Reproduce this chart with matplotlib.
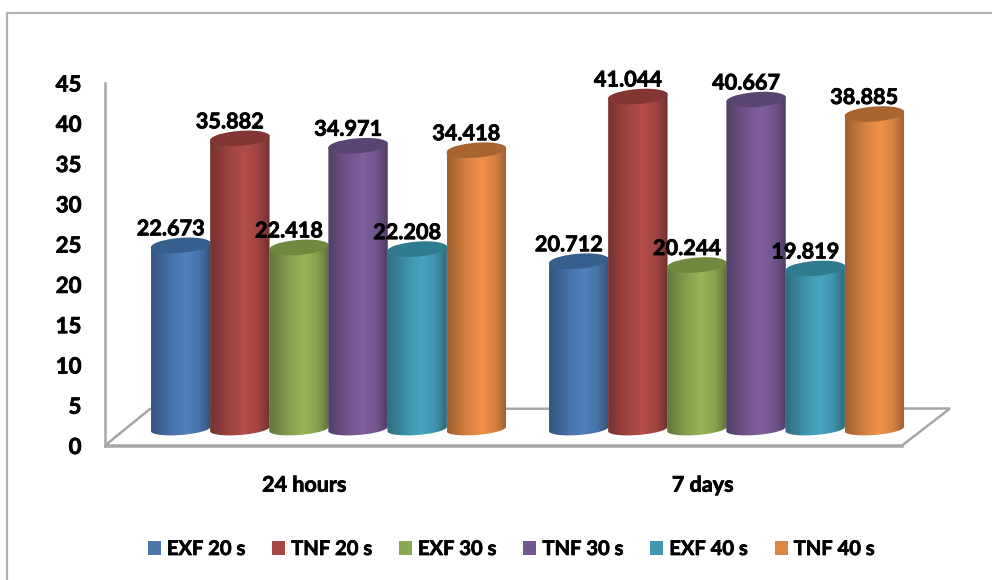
import numpy as np
import matplotlib
matplotlib.use('Agg')
import matplotlib.pyplot as plt
import matplotlib.patheffects as pe
from matplotlib.lines import Line2D
from matplotlib.patches import Patch, PathPatch, Polygon
from matplotlib.path import Path

plt.rcParams['font.family'] = ['Lato', 'DejaVu Sans']
plt.rcParams['font.weight'] = 'bold'

categories = ['24 hours', '7 days']
series_names = ['EXF 20 s', 'TNF 20 s', 'EXF 30 s', 'TNF 30 s', 'EXF 40 s', 'TNF 40 s']
exf_20 = [22.673, 20.712]
tnf_20 = [35.882, 41.044]
exf_30 = [22.418, 20.244]
tnf_30 = [34.971, 40.667]
exf_40 = [22.208, 19.819]
tnf_40 = [34.418, 38.885]
all_series = [exf_20, tnf_20, exf_30, tnf_30, exf_40, tnf_40]
y_ticks = [0, 5, 10, 15, 20, 25, 30, 35, 40, 45]

body_colors = ['#4f81bd', '#b34d4a', '#96b458', '#7f5f9e', '#46a5c0', '#f09148']
top_colors = ['#355f8c', '#843634', '#6f8a3e', '#5a4472', '#2f7b90', '#a96530']
legend_colors = ['#4a76aa', '#aa4744', '#8aa84f', '#71588f', '#4298b0', '#de8640']

W, H = 992, 580
fig = plt.figure(figsize=(W / 100, H / 100), dpi=100, facecolor='white')

GREY = '#a6a6a6'
heavy = [pe.withStroke(linewidth=0.55, foreground='black')]

# outer chart frame, only left and top are visible
to_fig = matplotlib.transforms.Affine2D().scale(1 / W, -1 / H).translate(0, 1) + fig.transFigure
fig.add_artist(Line2D([6.5, 6.5, W], [H, 12.5, 12.5], color='#b0b0b0', lw=1.6, transform=to_fig, zorder=-2))

# floor of the 3d box goes behind both axes
floor = Polygon([(105, 445.5), (150, 409), (950, 408.5), (902, 445.5)], closed=True,
                facecolor='white', edgecolor=GREY, lw=1.8, transform=to_fig, zorder=-1)
fig.add_artist(floor)

# front plane: value axis and category labels
ax_front = fig.add_axes([105 / W, (H - 445.5) / H, 797 / W, 362.5 / H])
ax_front.patch.set_alpha(0)
ax_front.set_xlim(-0.5, 1.5)
ax_front.set_ylim(0, 45)
ax_front.set_yticks(y_ticks)
ax_front.set_xticks([0, 1])
ax_front.set_xticklabels(categories)
ax_front.tick_params(axis='y', length=0, pad=17, labelsize=16)
ax_front.tick_params(axis='x', length=0, pad=21, labelsize=15.5)
for side in ['top', 'right']:
    ax_front.spines[side].set_visible(False)
for side in ['left', 'bottom']:
    ax_front.spines[side].set_color(GREY)
    ax_front.spines[side].set_linewidth(1.8)
for lab in ax_front.get_xticklabels() + ax_front.get_yticklabels():
    lab.set_path_effects(heavy)

# bars live on the back plane, shifted from the front axis
PX_PER_X = 398.0
PX_PER_Y = 8.1
ax = fig.add_axes([0, 0, 1, 1])
ax.patch.set_alpha(0)
ax.axis('off')
xlim = (-328.5 / PX_PER_X, (W - 328.5) / PX_PER_X)
ylim = (-(H - 429) / PX_PER_Y, 429 / PX_PER_Y)

bar_w = 59.4 / PX_PER_X
half_w = bar_w / 2
ell_b = 7.5 / PX_PER_Y
ell_tilt = 2.2 / PX_PER_Y

shade_pos = [0, 0.12, 0.35, 0.58, 0.8, 0.93, 1]
shade_val = [0.66, 0.74, 0.9, 1.0, 0.9, 0.74, 0.62]
gradient_x = np.linspace(0, 1, 80)
shade = np.interp(gradient_x, shade_pos, shade_val)
t_lower = np.linspace(np.pi, 2 * np.pi, 40)
t_full = np.linspace(0, 2 * np.pi, 80)


def ellipse_xy(cx, cy, t, b):
    x = cx + half_w * np.cos(t)
    y = cy + b * np.sin(t) + ell_tilt * np.cos(t)
    return x, y


def cylinder(cx, value, color, top_color, z):
    rgb = np.array(matplotlib.colors.to_rgb(color))
    img = (shade[:, None] * rgb)[None, :, :]
    im = ax.imshow(img, extent=(cx - half_w, cx + half_w, -1.2, value + 0.5), aspect='auto',
                   interpolation='bilinear', zorder=z)
    # side wall: bottom half of the base ellipse, straight up to the top
    bx, by = ellipse_xy(cx, 0, t_lower, 6.0 / PX_PER_Y)
    tx, ty = ellipse_xy(cx, value, t_full[:41], ell_b)
    verts = np.column_stack([np.r_[bx, tx], np.r_[by, ty]])
    clip = PathPatch(Path(np.vstack([verts, verts[0]])), transform=ax.transData, fc='none', ec='none')
    ax.add_patch(clip)
    im.set_clip_path(clip)
    ex, ey = ellipse_xy(cx, value, t_full, ell_b)
    ax.fill(ex, ey, color=top_color, lw=0, zorder=z + 0.5)


offsets = (np.arange(len(all_series)) - 2.5) * (59.1 / PX_PER_X)
for i, vals in enumerate(all_series):
    for g, v in enumerate(vals):
        cylinder(g + offsets[i], v, body_colors[i], top_colors[i], 3 + i)

# value labels sit over every bar, a little left of the bar centre
for i, vals in enumerate(all_series):
    for g, v in enumerate(vals):
        ax.text(g + offsets[i] - 10 / PX_PER_X, v + 16.5 / PX_PER_Y, f'{v:.3f}',
                ha='center', va='center', fontsize=15.6, color='black', zorder=20,
                path_effects=heavy)

ax.set_xlim(xlim)
ax.set_ylim(ylim)

handles = [Patch(facecolor=c, edgecolor='none', label=n) for c, n in zip(legend_colors, series_names)]
leg = fig.legend(handles=handles, loc='center', bbox_to_anchor=(511 / W, 1 - 549 / H), ncol=6,
                 frameon=False, fontsize=14.5, handlelength=0.65, handleheight=0.65,
                 handletextpad=0.3, columnspacing=1.34, borderpad=0)
for t in leg.get_texts():
    t.set_path_effects(heavy)

fig.savefig('out.png', dpi=100)
